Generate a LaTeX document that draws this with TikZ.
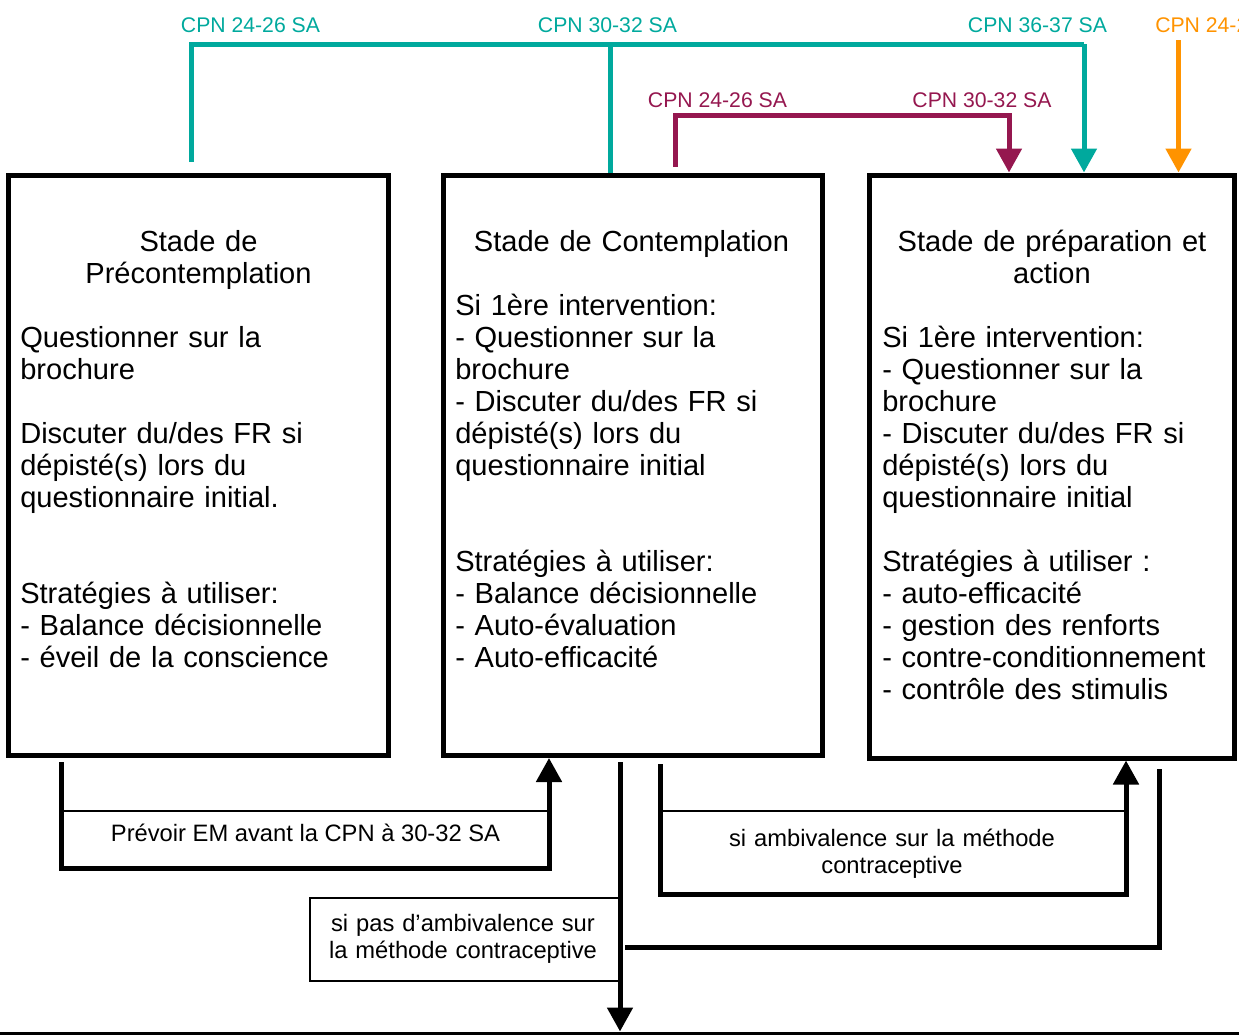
\documentclass[tikz,border=0pt]{standalone}
\usepackage{fontspec}
\setmainfont{Liberation Sans}
\usetikzlibrary{arrows.meta}
\definecolor{cteal}{HTML}{00A99D}
\definecolor{cpurple}{HTML}{95174F}
\definecolor{corange}{HTML}{FF9300}
\begin{document}
\begin{tikzpicture}[x=0.75pt,y=-0.75pt,
  stagebox/.style={draw, line width=3.75pt, inner sep=0pt},
  lblbox/.style={draw, line width=1.5pt, inner sep=0pt, outer sep=0pt},
  bigtxt/.style={font=\fontsize{21.8pt}{24pt}\selectfont, inner sep=0pt, text width=265pt, align=left, anchor=base west},
  titletxt/.style={font=\fontsize{21.8pt}{24pt}\selectfont, inner sep=0pt, text width=270pt, align=center, anchor=base},
  cpn/.style={font=\fontsize{15.9pt}{18pt}\selectfont, inner sep=0pt, anchor=base},
  lbltxt/.style={font=\fontsize{17.8pt}{20.4pt}\selectfont, inner sep=0pt, anchor=base, align=center},
  tip/.style={-{Triangle[width=18.75pt,length=18pt]}},
  tealc/.style={draw=cteal, line width=3.75pt},
  purplec/.style={draw=cpurple, line width=3.75pt},
  orangec/.style={draw=corange, line width=3.75pt},
  blk/.style={draw=black, line width=3.75pt}
]
\useasboundingbox (0,0) rectangle (1239,1035);

% stage boxes
\node[stagebox, minimum width=285pt, minimum height=435pt] (b1) at (198.5,465.5) {};
\node[stagebox, minimum width=284.25pt, minimum height=435pt] (b2) at (632.5,465.5) {};
\node[stagebox, minimum width=273.75pt, minimum height=437.25pt] (b3) at (1051.5,466.5) {};

% titles
\node[titletxt] (t1) at (198.5,251) {Stade de\\Précontemplation};
\node[titletxt] (t2) at (631.5,251) {Stade de Contemplation};
\node[titletxt] (t3) at (1052,251) {Stade de préparation et\\action};

% bodies
\node[bigtxt] (x1) at (20,347) {Questionner sur la\\brochure\\[24pt]Discuter du/des FR si\\dépisté(s) lors du\\questionnaire initial.\\[48pt]Stratégies à utiliser:\\- Balance décisionnelle\\- éveil de la conscience};
\node[bigtxt] (x2) at (455,315) {Si 1ère intervention:\\- Questionner sur la\\brochure\\- Discuter du/des FR si\\dépisté(s) lors du\\questionnaire initial\\[48pt]Stratégies à utiliser:\\- Balance décisionnelle\\- Auto-évaluation\\- Auto-efficacité};
\node[bigtxt] (x3) at (882,347) {Si 1ère intervention:\\- Questionner sur la\\brochure\\- Discuter du/des FR si\\dépisté(s) lors du\\questionnaire initial\\[24pt]Stratégies à utiliser :\\- auto-efficacité\\- gestion des renforts\\- contre-conditionnement\\- contrôle des stimulis};

% top labels
\node[cpn, text=cteal] (c1) at (250.5,32) {CPN 24-26 SA};
\node[cpn, text=cteal] (c2) at (607.5,32) {CPN 30-32 SA};
\node[cpn, text=cteal] (c3) at (1037.5,32) {CPN 36-37 SA};
\node[cpn, text=cpurple] (c4) at (717.5,107) {CPN 24-26 SA};
\node[cpn, text=cpurple] (c5) at (982,107) {CPN 30-32 SA};
\begin{scope}
\clip (0,0) rectangle (1239,1035);
\node[cpn, text=corange, anchor=base west] (c6) at (1155,32) {CPN 24-26 SA};
\end{scope}

% top connectors
\coordinate (ts) at (191.5,162);
\coordinate (tc) at (1084,44);
\coordinate (tm) at (610,44);
\draw[tealc] (ts) |- (tc);
\draw[tealc, tip] (tc) -- (tc |- b3.north);
\draw[tealc] (tm) -- (tm |- b2.north);

\coordinate (ps) at (675,166.5);
\coordinate (pc) at (1009,115.5);
\draw[purplec, tip] (ps) |- (pc) -- (pc |- b3.north);

\coordinate (os) at (1178.5,40);
\draw[orangec, tip] (os) -- (os |- b3.north);

% bottom label boxes
\node[lblbox, minimum width=366pt, minimum height=42.75pt] (em) at (305,839.5) {};
\node[lblbox, minimum width=232.5pt, minimum height=62.6pt] (pas) at (465,939.75) {};
\node[lblbox, minimum width=349.5pt, minimum height=62.25pt] (amb) at (893,852.5) {};

\node[lbltxt] (emt) at (305.5,841.7) {Prévoir EM avant la CPN à 30-32 SA};
\node[lbltxt, text width=232pt] (past) at (463,931.5) {si pas d’ambivalence sur\\la méthode contraceptive};
\node[lbltxt, text width=340pt] (ambt) at (892,846) {si ambivalence sur la méthode\\contraceptive};

% bottom connectors
\coordinate (k1) at (61,762);
\draw[blk, tip] (k1) |- (em.south east) -- (em.south east |- b2.south);

\coordinate (k2) at (620,762);
\coordinate (k2e) at (620,1031.5);
\draw[blk, tip] (k2) -- (k2e);

\coordinate (k3) at (660,764);
\draw[blk, tip] (k3) |- (amb.south east) -- (amb.south east |- b3.south);

\coordinate (k4) at (1159,769);
\coordinate (k4e) at (625,947);
\draw[blk] (k4) |- (k4e);

\coordinate (bl) at (0,1033.5);
\coordinate (br) at (1239,1033.5);
\draw[line width=2pt] (bl) -- (br);
\end{tikzpicture}
\end{document}
